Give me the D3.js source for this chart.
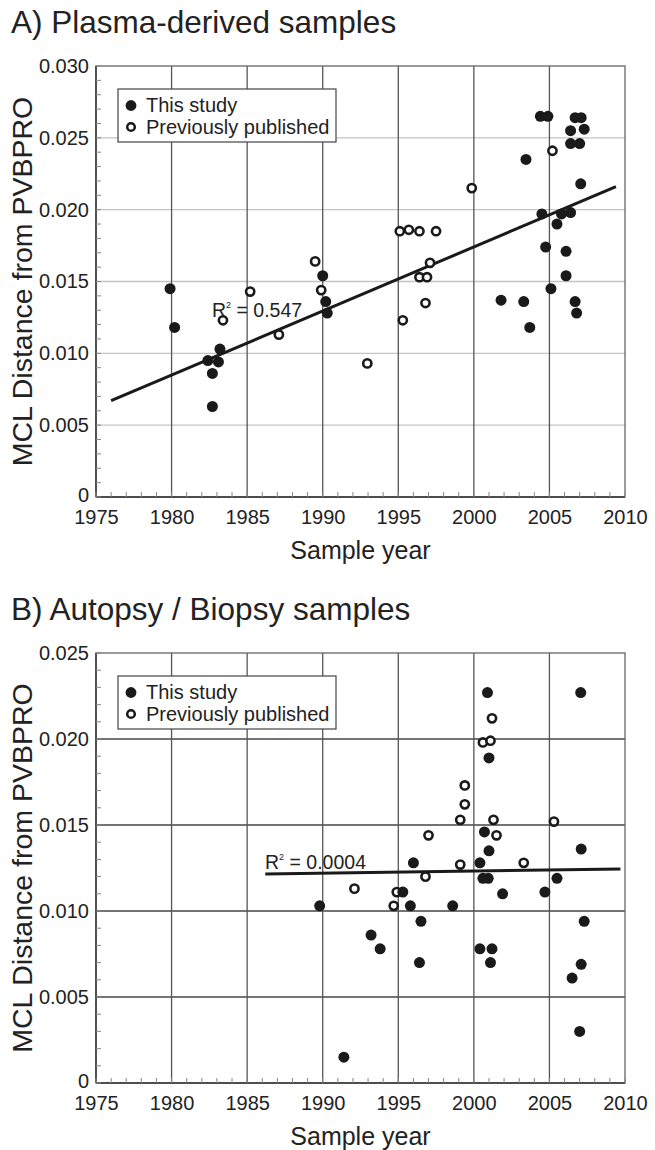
<!DOCTYPE html>
<html><head><meta charset="utf-8">
<script src="https://cdn.jsdelivr.net/npm/d3@7"></script>
<style>
body{margin:0;background:#fff;}
text{font-family:"Liberation Sans",Arial,Helvetica,sans-serif;fill:#222;}
</style></head>
<body>
<svg id="chart" width="655" height="1150"></svg>
<script>
// ---------- data ----------
const yearTicks = [1975,1980,1985,1990,1995,2000,2005,2010];
const valueTicksA = [0,0.005,0.010,0.015,0.020,0.025,0.030];
const valueTicksB = [0,0.005,0.010,0.015,0.020,0.025];
const legendLabels = ["This study","Previously published"];

// Panel A: plasma-derived samples [year, MCL distance]
const plasmaThisStudy = [
 [1979.9,0.0145],[1980.2,0.0118],[1983.2,0.0103],[1982.4,0.0095],[1983.1,0.0094],
 [1982.7,0.0086],[1982.7,0.0063],[1990.0,0.0154],[1990.2,0.0136],[1990.3,0.0128],
 [2004.4,0.0265],[2004.9,0.0265],[2006.7,0.0264],[2007.1,0.0264],[2006.4,0.0255],
 [2007.3,0.0256],[2006.4,0.0246],[2007.0,0.0246],[2003.45,0.0235],[2007.07,0.0218],
 [2004.5,0.0197],[2005.8,0.0197],[2006.4,0.0198],[2005.5,0.0190],[2004.75,0.0174],
 [2006.1,0.0171],[2006.1,0.0154],[2001.8,0.0137],[2003.3,0.0136],[2003.7,0.0118],
 [2005.1,0.0145],[2006.7,0.0136],[2006.8,0.0128]
];
const plasmaPrevious = [
 [1985.2,0.0143],[1983.4,0.0123],[1987.1,0.0113],[1989.9,0.0144],[1989.5,0.0164],
 [1992.95,0.0093],[1999.86,0.0215],[2005.2,0.0241],[1995.1,0.0185],[1995.7,0.0186],
 [1996.4,0.0185],[1997.5,0.0185],[1997.1,0.0163],[1996.4,0.0153],[1996.9,0.0153],
 [1996.8,0.0135],[1995.3,0.0123]
];
const plasmaFit = [[1976.0,0.0067],[2009.4,0.0216]];
const plasmaR2 = "0.547";

// Panel B: autopsy / biopsy samples
const tissueThisStudy = [
 [2000.9,0.0227],[2007.07,0.0227],[2001.0,0.0189],[2000.7,0.0146],[2001.0,0.0135],
 [2007.1,0.0136],[1996.0,0.0128],[2000.4,0.0128],[2000.6,0.0119],[2000.95,0.0119],
 [2005.5,0.0119],[1995.3,0.0111],[2001.9,0.0110],[2004.7,0.0111],[1995.8,0.0103],
 [1998.6,0.0103],[1996.5,0.0094],[2007.3,0.0094],[1993.2,0.0086],[1993.8,0.0078],
 [1996.4,0.0070],[2000.4,0.0078],[2001.2,0.0078],[2001.1,0.0070],[2007.1,0.0069],
 [2006.5,0.0061],[2007.0,0.0030],[1989.8,0.0103],[1991.4,0.0015]
];
const tissuePrevious = [
 [2001.2,0.0212],[2000.6,0.0198],[2001.1,0.0199],[1999.4,0.0173],[1999.4,0.0162],
 [1999.1,0.0153],[2001.3,0.0153],[2005.3,0.0152],[1997.0,0.0144],[2001.5,0.0144],
 [1999.1,0.0127],[2003.3,0.0128],[1996.8,0.0120],[1994.9,0.0111],[1994.7,0.0103],
 [1992.1,0.0113]
];
const tissueFit = [[1986.2,0.01215],[2009.7,0.01244]];
const tissueR2 = "0.0004";

// ---------- drawing ----------
const svg = d3.select("#chart");
const left = 96, right = 625;

function panel(cfg){
  const g = svg.append("g");
  const x = d3.scaleLinear().domain([1975,2010]).range([left,right]);
  const y = d3.scaleLinear().domain([0,cfg.ymax]).range([cfg.bottom,cfg.top]);

  // title
  g.append("text").attr("x",11).attr("y",cfg.titleY).attr("font-size",31.5).text(cfg.title);

  // horizontal gridlines
  g.selectAll(".hg").data(cfg.yticks.filter(d=>d>0&&d<cfg.ymax)).enter().append("line")
    .attr("x1",left).attr("x2",right).attr("y1",d=>y(d)).attr("y2",d=>y(d))
    .attr("stroke",cfg.hColor).attr("stroke-width",1.4);
  // vertical gridlines
  g.selectAll(".vg").data(yearTicks.filter(d=>d>1975&&d<2010)).enter().append("line")
    .attr("x1",d=>x(d)).attr("x2",d=>x(d)).attr("y1",cfg.top).attr("y2",cfg.bottom)
    .attr("stroke",cfg.vColor).attr("stroke-width",1.3);

  // frame
  g.append("rect").attr("x",left).attr("y",cfg.top).attr("width",right-left).attr("height",cfg.bottom-cfg.top)
    .attr("fill","none").attr("stroke","#666").attr("stroke-width",1.3);
  g.append("line").attr("x1",left).attr("x2",left).attr("y1",cfg.top).attr("y2",cfg.bottom)
    .attr("stroke","#333").attr("stroke-width",1.4);
  g.append("line").attr("x1",left).attr("x2",right).attr("y1",cfg.bottom).attr("y2",cfg.bottom)
    .attr("stroke","#333").attr("stroke-width",1.4);

  // minor ticks (inside)
  const yMinor = d3.range(0,cfg.ymax+1e-9,0.001).map(d=>+d.toFixed(3));
  g.selectAll(".ym").data(yMinor).enter().append("line")
    .attr("x1",left).attr("x2",left+5).attr("y1",d=>y(d)).attr("y2",d=>y(d))
    .attr("stroke","#888").attr("stroke-width",1);
  const xMinor = d3.range(1975,2011,1);
  g.selectAll(".xm").data(xMinor).enter().append("line")
    .attr("x1",d=>x(d)).attr("x2",d=>x(d)).attr("y1",cfg.bottom).attr("y2",cfg.bottom-5)
    .attr("stroke","#888").attr("stroke-width",1);

  // axes with D3 (labels only)
  const xa = g.append("g").attr("transform",`translate(0,${cfg.bottom})`)
    .call(d3.axisBottom(x).tickValues(yearTicks).tickFormat(d3.format("d")).tickSize(0).tickPadding(13));
  xa.select(".domain").remove();
  xa.selectAll("text").attr("font-size",20).attr("fill","#222").attr("font-family",null);
  const ya = g.append("g").attr("transform",`translate(${left},0)`)
    .call(d3.axisLeft(y).tickValues(cfg.yticks).tickFormat(d=>d===0?"0":d3.format(".3f")(d)).tickSize(0).tickPadding(7));
  ya.select(".domain").remove();
  ya.selectAll("text").attr("font-size",20).attr("fill","#222").attr("font-family",null)
    .attr("dy",d=>d===0?"0.2em":"0.32em");

  // axis titles
  g.append("text").attr("x",(left+right)/2).attr("y",cfg.bottom+62).attr("text-anchor","middle")
    .attr("font-size",25).text("Sample year");
  g.append("text").attr("transform",`translate(32,${(cfg.top+cfg.bottom)/2}) rotate(-90)`)
    .attr("text-anchor","middle").attr("font-size",28.5).text("MCL Distance from PVBPRO");

  // regression line
  const line = d3.line().x(d=>x(d[0])).y(d=>y(d[1]));
  g.append("path").datum(cfg.fit).attr("d",line).attr("stroke","#1a1a1a").attr("stroke-width",3).attr("fill","none");

  // R2 label
  const r = g.append("text").attr("x",cfg.r2x).attr("y",cfg.r2y).attr("font-size",19.5);
  r.append("tspan").text("R");
  r.append("tspan").attr("font-size",9).attr("dy",-9).text("2");
  r.append("tspan").attr("dy",9).text(" = " + cfg.r2);

  // points
  g.selectAll(".pp").data(cfg.prev).enter().append("circle")
    .attr("cx",d=>x(d[0])).attr("cy",d=>y(d[1])).attr("r",4.1)
    .attr("fill","#fff").attr("stroke","#1a1a1a").attr("stroke-width",2.6);
  g.selectAll(".ts").data(cfg.study).enter().append("circle")
    .attr("cx",d=>x(d[0])).attr("cy",d=>y(d[1])).attr("r",5.5)
    .attr("fill","#1a1a1a");

  // legend
  const lg = g.append("g").attr("transform",`translate(118,${cfg.legendTop})`);
  lg.append("rect").attr("x",0).attr("y",0).attr("width",218).attr("height",53)
    .attr("fill","#fff").attr("stroke","#444").attr("stroke-width",1.2);
  lg.append("circle").attr("cx",13).attr("cy",16.5).attr("r",5.4).attr("fill","#1a1a1a");
  lg.append("circle").attr("cx",13).attr("cy",38).attr("r",3.8).attr("fill","#fff").attr("stroke","#1a1a1a").attr("stroke-width",2.5);
  lg.selectAll(".lt").data(legendLabels).enter().append("text")
    .attr("x",28).attr("y",(d,i)=>i===0?23:44.5).attr("font-size",20).text(d=>d);
}

panel({title:"A) Plasma-derived samples", titleY:33, top:66, bottom:497, ymax:0.030, yticks:valueTicksA,
  hColor:"#c4c4c4", vColor:"#555", study:plasmaThisStudy, prev:plasmaPrevious, fit:plasmaFit,
  r2:plasmaR2, r2x:212, r2y:317, legendTop:89});
panel({title:"B) Autopsy / Biopsy samples", titleY:620, top:653, bottom:1083, ymax:0.025, yticks:valueTicksB,
  hColor:"#444", vColor:"#555", study:tissueThisStudy, prev:tissuePrevious, fit:tissueFit,
  r2:tissueR2, r2x:265, r2y:869, legendTop:676});
</script>
</body></html>
